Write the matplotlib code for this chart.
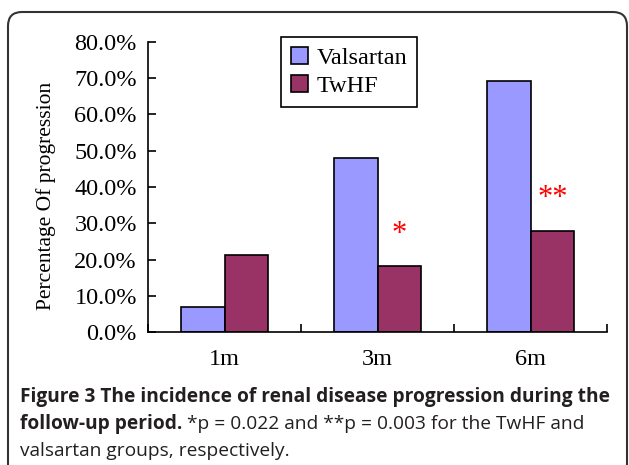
import matplotlib
matplotlib.use("Agg")
from matplotlib import pyplot as plt
from matplotlib.patches import FancyBboxPatch
import numpy as np

# data
categories = ['1m', '3m', '6m']
valsartan = [6.8, 48.0, 69.2]
twhf = [21.2, 18.2, 27.9]
star_labels = ['', '*', '**']
star_heights = [0, 26.8, 36.9]
y_ticks = [0, 10, 20, 30, 40, 50, 60, 70, 80]

plt.rcParams['font.family'] = ['Liberation Serif', 'DejaVu Serif']

fig = plt.figure(figsize=(6.29, 4.65), dpi=100)
ax = fig.add_axes([148 / 629, 1 - 332 / 465, (607 - 148) / 629, (332 - 42) / 465])

x = np.arange(len(categories))
w = 1 / 3.5
ax.bar(x - w / 2, valsartan, w, color='#9999FF', edgecolor='black', linewidth=1.2, label='Valsartan')
ax.bar(x + w / 2, twhf, w, color='#993366', edgecolor='black', linewidth=1.2, label='TwHF')

for xi, s, h in zip(x, star_labels, star_heights):
    if s:
        ax.text(xi + w / 2, h, s, color='red', fontsize=22, ha='center', va='center')

ax.set_xlim(-0.5, 2.5)
ax.set_ylim(0, 80)
ax.set_yticks(y_ticks)
ax.set_yticklabels(['%.1f%%' % v for v in y_ticks], fontsize=17.5)
ax.tick_params(axis='y', direction='in', length=6, width=1.2, pad=8)
ax.set_xticks(x)
ax.set_xticklabels(categories, fontsize=17.5)
ax.tick_params(axis='x', which='major', length=0, pad=12)
ax.set_xticks([-0.5, 0.5, 1.5, 2.5], minor=True)
ax.tick_params(axis='x', which='minor', direction='in', length=6, width=1.2)
for side in ['top', 'right']:
    ax.spines[side].set_visible(False)
for side in ['left', 'bottom']:
    ax.spines[side].set_linewidth(1.2)
ax.set_ylabel('Percentage Of progression', fontsize=15.5)
ax.yaxis.set_label_coords(-0.2, 0.47)

leg = ax.legend(loc='upper left', bbox_to_anchor=(281 / 629, 1 - 37 / 465),
                bbox_transform=fig.transFigure, borderaxespad=0, fontsize=17.5,
                fancybox=False, edgecolor='black', framealpha=1,
                handlelength=0.7, handleheight=0.7, handletextpad=0.35,
                labelspacing=0.25, borderpad=0.4)
leg.get_frame().set_linewidth(1.2)

# rounded frame around the figure
frame = FancyBboxPatch((0.08, -0.3), 6.19, 4.83, boxstyle='round,pad=0,rounding_size=0.14',
                       transform=fig.dpi_scale_trans, facecolor='none',
                       edgecolor='#333333', linewidth=1.5)
fig.patches.append(frame)

# caption
cap = dict(family='Open Sans', fontsize=13.8, color='#231f20', va='baseline')
fig.text(20 / 629, 1 - 402 / 465, 'Figure 3 The incidence of renal disease progression during the',
         fontweight='bold', **cap)
t2 = fig.text(20 / 629, 1 - 429 / 465, 'follow-up period.', fontweight='bold', **cap)
fig.canvas.draw()
bb = t2.get_window_extent()
fig.text((bb.x1 + 5) / 629, 1 - 429 / 465, '*p = 0.022 and **p = 0.003 for the TwHF and', **cap)
fig.text(20 / 629, 1 - 456 / 465, 'valsartan groups, respectively.', **cap)

fig.savefig('out.png', dpi=100)
